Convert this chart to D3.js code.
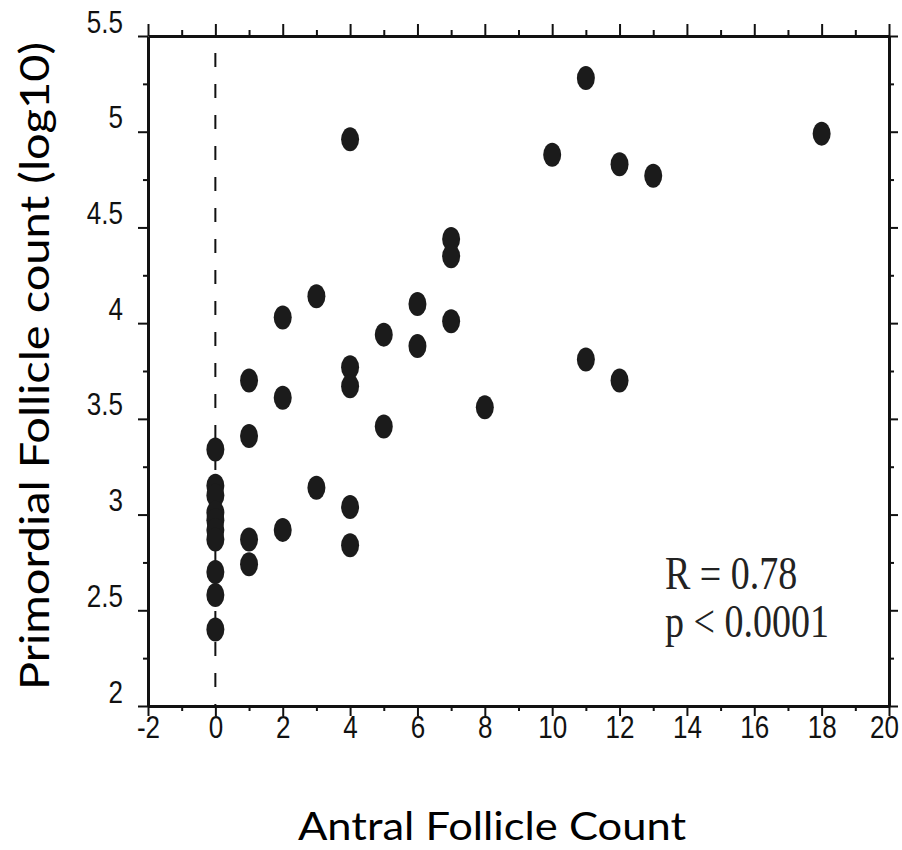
<!DOCTYPE html>
<html>
<head>
<meta charset="utf-8">
<script src="https://cdn.jsdelivr.net/npm/d3@7"></script>
<style>
  body { margin: 0; background: #fff; }
  svg { display: block; }
</style>
</head>
<body>
<div id="chart"></div>
<script>
// antral follicle count (x) and log10 primordial follicle count (y)
const afc = [0, 0, 0, 0, 0, 0, 0, 0, 0, 0,
  1, 1, 1, 1,
  2, 2, 2,
  3, 3,
  4, 4, 4, 4, 4,
  5, 5,
  6, 6,
  7, 7, 7,
  8,
  10,
  11, 11,
  12, 12,
  13,
  18];
const pfc = [3.34, 3.15, 3.10, 3.01, 2.97, 2.92, 2.87, 2.70, 2.58, 2.40,
  3.70, 3.41, 2.87, 2.74,
  4.03, 3.61, 2.92,
  4.14, 3.14,
  4.96, 3.77, 3.67, 3.04, 2.84,
  3.94, 3.46,
  4.10, 3.88,
  4.44, 4.35, 4.01,
  3.56,
  4.88,
  5.28, 3.81,
  4.83, 3.70,
  4.77,
  4.99];

const xMajor = [-2, 0, 2, 4, 6, 8, 10, 12, 14, 16, 18, 20];
const xMinor = [-1, 1, 3, 5, 7, 9, 11, 13, 15, 17, 19];
const yMajor = [2, 2.5, 3, 3.5, 4, 4.5, 5, 5.5];
const yMinor = [2.25, 2.75, 3.25, 3.75, 4.25, 4.75, 5.25];
const statLines = ["R = 0.78", "p < 0.0001"];

const width = 902, height = 850;
const plotLeft = 148, plotRight = 889, plotTop = 36, plotBottom = 706;

const svg = d3.select("#chart").append("svg")
  .attr("width", width)
  .attr("height", height);

const x = d3.scaleLinear().domain([-2, 20]).range([plotLeft, plotRight]);
const y = d3.scaleLinear().domain([2, 5.5]).range([plotBottom, plotTop]);

// condensed look: regular sans squeezed horizontally
const tickFont = "'Liberation Sans', Arial, sans-serif";

function styleAxis(g, domainWidth) {
  g.select(".domain").attr("stroke", "#111").attr("stroke-width", domainWidth);
  g.selectAll(".tick line").attr("stroke", "#111").attr("stroke-width", 2);
}

function minorAxis(axis, pos, horizontal) {
  svg.append("g")
    .attr("transform", horizontal ? `translate(0,${pos})` : `translate(${pos},0)`)
    .call(axis)
    .call(g => {
      g.select(".domain").remove();
      g.selectAll("line").attr("stroke", "#111").attr("stroke-width", 2);
    });
}

// bottom axis
const gb = svg.append("g").attr("transform", `translate(0,${plotBottom})`)
  .call(d3.axisBottom(x).tickValues(xMajor).tickSize(10).tickSizeOuter(0).tickFormat(d => d));
styleAxis(gb, 3);
gb.selectAll(".tick text")
  .attr("y", 0).attr("dy", 0)
  .attr("font-family", tickFont)
  .attr("font-size", 31)
  .attr("fill", "#111")
  // keep the last label inside the page edge
  .attr("transform", d => `translate(${d === 20 ? -5 : 0},32) scale(0.84,1)`);
minorAxis(d3.axisBottom(x).tickValues(xMinor).tickSize(5).tickFormat(""), plotBottom, true);

// top axis
const gt = svg.append("g").attr("transform", `translate(0,${plotTop})`)
  .call(d3.axisTop(x).tickValues(xMajor).tickSize(12).tickSizeOuter(0).tickFormat(""));
styleAxis(gt, 3);
minorAxis(d3.axisTop(x).tickValues(xMinor).tickSize(6).tickFormat(""), plotTop, true);

// left axis
const gl = svg.append("g").attr("transform", `translate(${plotLeft},0)`)
  .call(d3.axisLeft(y).tickValues(yMajor).tickSize(10).tickSizeOuter(0).tickFormat(d => d));
styleAxis(gl, 3);
gl.selectAll(".tick text")
  .attr("x", 0).attr("dy", 0)
  .attr("font-family", tickFont)
  .attr("font-size", 31)
  .attr("fill", "#111")
  .attr("transform", "translate(-25,-4) scale(0.84,1)");
minorAxis(d3.axisLeft(y).tickValues(yMinor).tickSize(5).tickFormat(""), plotLeft, false);

// right axis
const gr = svg.append("g").attr("transform", `translate(${plotRight},0)`)
  .call(d3.axisRight(y).tickValues(yMajor).tickSize(9).tickSizeOuter(0).tickFormat(""));
styleAxis(gr, 3);
minorAxis(d3.axisRight(y).tickValues(yMinor).tickSize(5).tickFormat(""), plotRight, false);

// dashed reference line at x = 0
svg.append("line")
  .attr("x1", x(0)).attr("x2", x(0))
  .attr("y1", plotTop).attr("y2", plotBottom)
  .attr("stroke", "#111")
  .attr("stroke-width", 2)
  .attr("stroke-dasharray", "14,17")
  .attr("stroke-dashoffset", 14);

// points
svg.append("g").selectAll("ellipse")
  .data(afc.map((d, i) => ({ x: d, y: pfc[i] })))
  .enter()
  .append("ellipse")
  .attr("cx", d => x(d.x))
  .attr("cy", d => y(d.y))
  .attr("rx", 9)
  .attr("ry", 12)
  .attr("fill", "#1b1b1b");

// stats text
const stat = svg.append("g").attr("transform", "translate(665,0)");
stat.selectAll("text")
  .data(statLines)
  .enter()
  .append("text")
  .attr("transform", (d, i) => `translate(0,${589 + i * 48}) scale(1,1.2)`)
  .attr("font-family", "'Liberation Serif', 'Times New Roman', serif")
  .attr("font-size", 38)
  .attr("fill", "#222")
  .text(d => d);

// axis titles
svg.append("text")
  .attr("x", 492)
  .attr("y", 840)
  .attr("text-anchor", "middle")
  .attr("font-family", "Lato, 'Open Sans', sans-serif")
  .attr("font-size", 39)
  .attr("textLength", 388)
  .attr("lengthAdjust", "spacingAndGlyphs")
  .attr("fill", "#000")
  .text("Antral Follicle Count");

svg.append("text")
  .attr("transform", "translate(49,366) rotate(-90)")
  .attr("text-anchor", "middle")
  .attr("font-family", "Lato, 'Open Sans', sans-serif")
  .attr("font-size", 40)
  .attr("textLength", 648)
  .attr("lengthAdjust", "spacingAndGlyphs")
  .attr("fill", "#000")
  .text("Primordial Follicle count (log10)");
</script>
</body>
</html>
